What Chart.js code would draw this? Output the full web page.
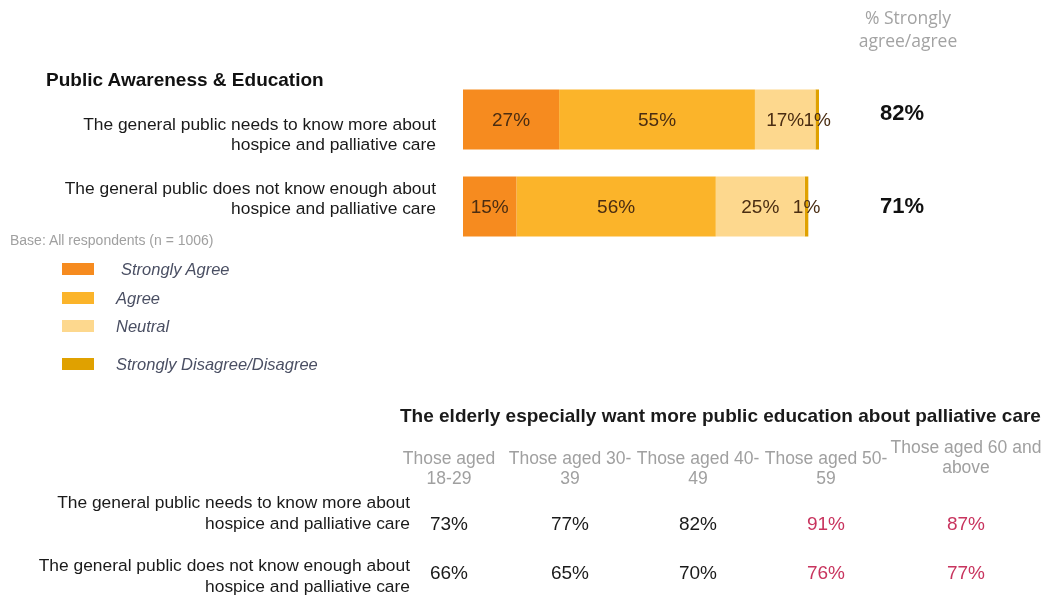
<!DOCTYPE html>
<html>
<head>
<meta charset="utf-8">
<script src="https://cdn.jsdelivr.net/npm/chart.js@4"></script>
<style>
  html, body { margin: 0; padding: 0; background: #fff; }
  body { width: 1046px; height: 596px; position: relative; overflow: hidden; font-family: "Liberation Sans", Arial, sans-serif; }
  #bars { position: absolute; left: 0; top: 0; }
  .t { position: absolute; white-space: nowrap; }
  .stmt { font-size: 17.4px; line-height: 20px; text-align: right; color: #1a1a1a; }
  .legend-row { position: absolute; left: 62px; height: 14px; }
  .legend-row span.sw { position: absolute; left: 0; top: 1px; width: 32px; height: 12px; }
  .legend-row span.lb { position: absolute; top: -3px; line-height: 20px; font-style: italic; font-size: 16.5px; color: #4a4f63; white-space: nowrap; }
</style>
</head>
<body>
<canvas id="bars" width="1046" height="596"></canvas>
<div id="overlay"></div>
<script>
// survey statements and answer shares (%)
const statements = [
  ['The general public needs to know more about', 'hospice and palliative care'],
  ['The general public does not know enough about', 'hospice and palliative care']
];
const responses = ['Strongly Agree', 'Agree', 'Neutral', 'Strongly Disagree/Disagree'];
const stronglyAgree = [27, 15];
const agree = [55, 56];
const neutral = [17, 25];
const disagree = [1, 1];
const netAgree = [82, 71];

// split by age
const ageGroups = [
  ['Those aged', '18-29'],
  ['Those aged 30-', '39'],
  ['Those aged 40-', '49'],
  ['Those aged 50-', '59'],
  ['Those aged 60 and', 'above']
];
const needMoreByAge = [73, 77, 82, 91, 87];
const notEnoughByAge = [66, 65, 70, 76, 77];

const colors = ['#F68B1F', '#FBB42A', '#FDD88E', '#E0A100'];
const seriesValues = [stronglyAgree, agree, neutral, disagree];
const netLabelShift = [-6, 0];

// % labels inside bar segments + net agree column
const barLabels = {
  id: 'barLabels',
  afterDatasetsDraw(chart) {
    const ctx = chart.ctx;
    ctx.save();
    ctx.font = '19px "Liberation Sans", Arial, sans-serif';
    ctx.fillStyle = '#4a2d12';
    ctx.textAlign = 'center';
    ctx.textBaseline = 'middle';
    chart.data.datasets.forEach((ds, i) => {
      chart.getDatasetMeta(i).data.forEach((bar, j) => {
        ctx.fillText(ds.data[j] + '%', (bar.x + bar.base) / 2, bar.y + 1);
      });
    });
    ctx.font = 'bold 22px "Liberation Sans", Arial, sans-serif';
    ctx.fillStyle = '#111';
    chart.getDatasetMeta(0).data.forEach((bar, j) => {
      ctx.fillText(netAgree[j] + '%', 902, bar.y + netLabelShift[j]);
    });
    ctx.restore();
  }
};

new Chart(document.getElementById('bars'), {
  type: 'bar',
  data: {
    labels: statements.map(s => s.join(' ')),
    datasets: responses.map((r, i) => ({
      label: r,
      data: seriesValues[i],
      backgroundColor: colors[i],
      borderWidth: 0,
      barPercentage: 0.69,
      categoryPercentage: 1
    }))
  },
  options: {
    indexAxis: 'y',
    responsive: false,
    animation: false,
    layout: { padding: { left: 463, right: 227, top: 76, bottom: 346 } },
    scales: {
      x: { stacked: true, min: 0, max: 100, display: false },
      y: { stacked: true, display: false }
    },
    plugins: { legend: { display: false }, tooltip: { enabled: false } }
  },
  plugins: [barLabels]
});

// text around the chart
const overlay = document.getElementById('overlay');
function addText(html, style, cls) {
  const d = document.createElement('div');
  d.className = 't ' + (cls || '');
  d.innerHTML = html;
  Object.assign(d.style, style);
  overlay.appendChild(d);
  return d;
}

addText('% Strongly<br>agree/agree', { left: '838px', width: '140px', top: '6px', textAlign: 'center',
  fontFamily: '"Open Sans", sans-serif', fontSize: '17.5px', lineHeight: '23px', color: '#a3a3a3' });
addText('Public Awareness &amp; Education', { left: '46px', top: '69px', lineHeight: '22px',
  fontWeight: 'bold', fontSize: '19px', color: '#111' });

const stmtTops = [114, 178];
statements.forEach((s, i) => {
  addText(s.join('<br>'), { right: (1046 - 436) + 'px', top: stmtTops[i] + 'px' }, 'stmt');
});

addText('Base: All respondents (n = 1006)', { left: '10px', top: '232px', lineHeight: '16px',
  fontSize: '14px', color: '#a0a0a0' });

const legendMid = [269, 298, 326, 364];
const legendLeft = [59, 54, 54, 54];
responses.forEach((r, i) => {
  const row = document.createElement('div');
  row.className = 'legend-row';
  row.style.top = (legendMid[i] - 7) + 'px';
  row.innerHTML = '<span class="sw" style="background:' + colors[i] + '"></span>' +
    '<span class="lb" style="left:' + legendLeft[i] + 'px">' + r + '</span>';
  overlay.appendChild(row);
});

// age table
addText('The elderly especially want more public education about palliative care',
  { left: '400px', top: '405px', lineHeight: '22px', fontWeight: 'bold', fontSize: '19px', color: '#1a1a1a' });

const colCenters = [449, 570, 698, 826, 966];
ageGroups.forEach((g, i) => {
  const top = i === 4 ? 437 : 448;
  addText(g.join('<br>'), { left: (colCenters[i] - 80) + 'px', width: '160px', top: top + 'px', textAlign: 'center',
    fontSize: '17.5px', lineHeight: '20px', color: '#a0a0a0' });
});

const rowTops = [492, 555];
statements.forEach((s, i) => {
  addText(s.join('<br>'), { right: (1046 - 410) + 'px', top: rowTops[i] + 'px', lineHeight: '21px' }, 'stmt');
});

[needMoreByAge, notEnoughByAge].forEach((vals, r) => {
  const top = r === 0 ? 513 : 562;
  vals.forEach((v, i) => {
    addText(v + '%', { left: (colCenters[i] - 40) + 'px', width: '80px', top: top + 'px', textAlign: 'center',
      lineHeight: '22px', fontSize: '19px', color: i >= 3 ? '#C8345E' : '#1a1a1a' });
  });
});
</script>
</body>
</html>
